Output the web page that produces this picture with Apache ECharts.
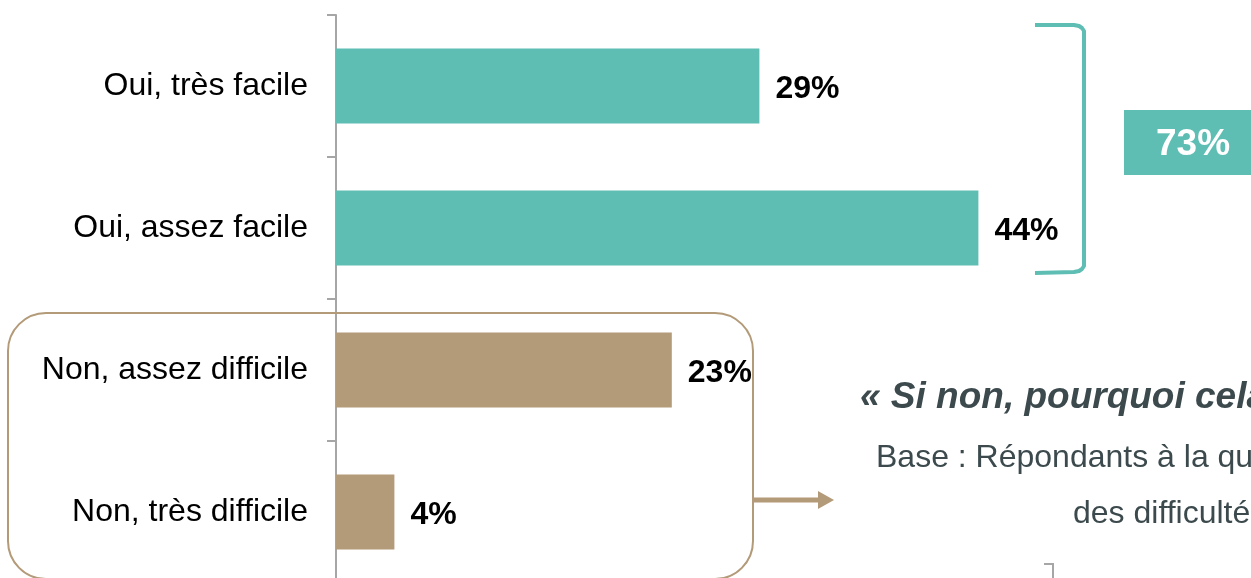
<!DOCTYPE html>
<html>
<head>
<meta charset="utf-8">
<script src="https://cdn.jsdelivr.net/npm/echarts@6/dist/echarts.min.js"></script>
<style>
html,body{margin:0;padding:0;background:#fff;}
#c{width:1251px;height:578px;}
</style>
</head>
<body>
<div id="c"></div>
<script>
const categories = ['Oui, très facile', 'Oui, assez facile', 'Non, assez difficile', 'Non, très difficile'];
const values = [29, 44, 23, 4];
const totalLabel = ['73%'];
const questionText = ['« Si non, pourquoi cela', 'Base : Répondants à la qu', 'des difficulté'];

const TEAL = '#5fbeb4';
const BROWN = '#b39a78';
const barColors = [TEAL, TEAL, BROWN, BROWN];
const FONT = 'Liberation Sans, Arial, sans-serif';

const chart = echarts.init(document.getElementById('c'));
chart.setOption({
  animation: false,
  grid: { left: 336, top: 15, width: 730, height: 568, containLabel: false, outerBoundsMode: 'none' },
  xAxis: { type: 'value', min: 0, max: 50, show: false },
  yAxis: {
    type: 'category', data: categories, inverse: true,
    axisLine: { show: true, lineStyle: { color: '#a6a6a6', width: 2 } },
    axisTick: { show: true, length: 9, alignWithLabel: false, lineStyle: { color: '#a6a6a6', width: 2 } },
    axisLabel: { color: '#000', fontSize: 32, fontFamily: FONT, margin: 28, padding: [4, 0, 0, 0] }
  },
  series: [{
    type: 'bar', barWidth: 75,
    data: values.map((v, i) => ({ value: v, itemStyle: { color: barColors[i] } })),
    label: {
      show: true, position: 'right', distance: 16, offset: [0, 3],
      formatter: p => p.value + '%',
      color: '#000', fontWeight: 'bold', fontSize: 32, fontFamily: FONT
    }
  }],
  graphic: [
    { type: 'rect', shape: { x: 8, y: 313, width: 745, height: 266, r: 38 },
      style: { fill: 'none', stroke: BROWN, lineWidth: 2 }, z: 10 },
    { type: 'polyline', shape: { points: [[1035, 25], [1074, 25], [1079, 26], [1082, 28], [1084, 31], [1084, 35],
        [1084, 262], [1084, 266], [1082, 269], [1079, 271], [1074, 272], [1035, 273]] },
      style: { fill: 'none', stroke: TEAL, lineWidth: 4, lineJoin: 'round' }, z: 10 },
    { type: 'rect', shape: { x: 1124, y: 110, width: 140, height: 65 }, style: { fill: TEAL }, z: 10 },
    { type: 'text', x: 1193, y: 145, style: { text: totalLabel[0], fill: '#fff', font: 'bold 37px ' + FONT, align: 'center', verticalAlign: 'middle' }, z: 11 },
    { type: 'line', shape: { x1: 753, y1: 500, x2: 820, y2: 500 }, style: { stroke: BROWN, lineWidth: 5 }, z: 10 },
    { type: 'polygon', shape: { points: [[818, 491], [834, 500], [818, 509]] }, style: { fill: BROWN }, z: 10 },
    { type: 'text', x: 860, y: 398, style: { text: questionText[0], fill: '#3c4a4e', font: 'italic bold 37px ' + FONT, verticalAlign: 'middle' }, z: 10 },
    { type: 'text', x: 876, y: 458, style: { text: questionText[1], fill: '#3c4a4e', font: '32px ' + FONT, verticalAlign: 'middle' }, z: 10 },
    { type: 'text', x: 1073, y: 514, style: { text: questionText[2], fill: '#3c4a4e', font: '32px ' + FONT, verticalAlign: 'middle' }, z: 10 },
    { type: 'polyline', shape: { points: [[1044, 564], [1053, 564], [1053, 578]] }, style: { stroke: '#a6a6a6', lineWidth: 2, fill: 'none' }, z: 10 }
  ]
});
</script>
</body>
</html>
